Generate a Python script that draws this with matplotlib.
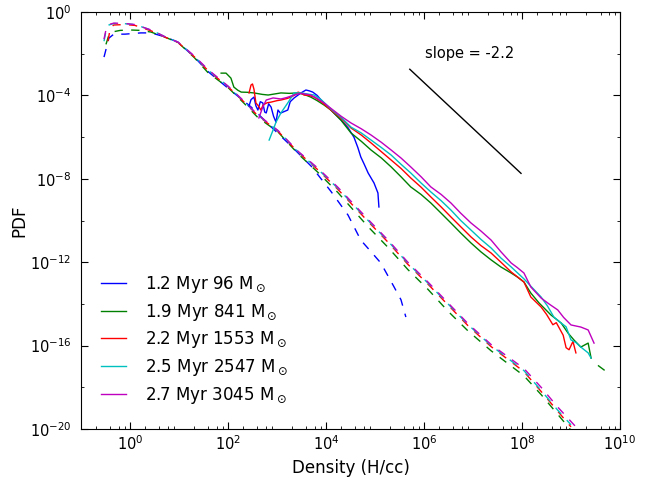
import matplotlib
matplotlib.use("Agg")
import matplotlib.pyplot as plt
import numpy as np
from matplotlib.ticker import FixedLocator, LogFormatterMathtext, NullFormatter

# log10(density), log10(PDF) for each snapshot
labels = [r'1.2 Myr 96 M$_\odot$', r'1.9 Myr 841 M$_\odot$', r'2.2 Myr 1553 M$_\odot$',
          r'2.5 Myr 2547 M$_\odot$', r'2.7 Myr 3045 M$_\odot$']
colors = ['b', 'g', 'r', 'c', 'm']

# solid curves
blue_x = [2.43, 2.47, 2.53, 2.57, 2.61, 2.66, 2.71, 2.75, 2.78, 2.83, 2.88, 2.93, 2.98, 3.02, 3.07,
          3.12, 3.17, 3.22, 3.27, 3.35, 3.42, 3.49, 3.59, 3.66, 3.73, 3.82, 3.9, 4.0, 4.1, 4.31,
          4.45, 4.57, 4.65, 4.71, 4.78, 4.86, 4.98, 5.06, 5.08]
blue_y = [-4.5, -4.2, -4.08, -4.5, -4.7, -4.3, -4.36, -4.8, -4.84, -4.4, -4.56, -5.0, -5.28, -4.7, -4.85,
          -4.8, -4.75, -4.7, -4.3, -4.12, -4.0, -3.88, -3.74, -3.78, -3.84, -4.0, -4.22, -4.45, -4.7, -5.18,
          -5.55, -6.0, -6.5, -6.95, -7.3, -7.72, -8.2, -8.68, -9.35]

green_x = [1.86, 1.96, 2.06, 2.12, 2.2, 2.27, 2.4, 2.53, 2.7, 2.82, 2.95, 3.08, 3.25, 3.43, 3.55, 3.69,
           3.82, 3.96, 4.1, 4.31, 4.51, 4.72, 4.92, 5.13, 5.33, 5.53, 5.73, 5.94, 6.14, 6.35, 6.55, 6.75,
           6.96, 7.16, 7.37, 7.57, 7.78, 7.9, 8.04, 8.18, 8.35, 8.59, 8.8, 8.94, 9.06, 9.2, 9.35, 9.41]
green_y = [-2.93, -2.93, -3.17, -3.6, -3.75, -3.84, -3.85, -3.88, -3.95, -3.98, -3.93, -3.88, -3.9, -3.88,
           -3.95, -4.08, -4.25, -4.46, -4.7, -5.2, -5.8, -6.2, -6.62, -7.0, -7.43, -7.9, -8.39, -8.75,
           -9.16, -9.65, -10.12, -10.6, -11.08, -11.5, -11.89, -12.23, -12.52, -12.7, -12.95, -13.48,
           -13.96, -14.53, -14.92, -15.4, -15.73, -16.07, -15.88, -16.6]

red_x = [2.43, 2.47, 2.5, 2.53, 2.57, 2.62, 2.67, 2.72, 2.8, 2.88, 3.0, 3.08, 3.2, 3.29, 3.38, 3.43,
         3.5, 3.55, 3.65, 3.76, 3.9, 4.1, 4.31, 4.51, 4.72, 4.92, 5.13, 5.33, 5.53, 5.73, 5.94, 6.14,
         6.35, 6.55, 6.75, 6.96, 7.16, 7.37, 7.57, 7.78, 8.04, 8.18, 8.39, 8.5, 8.63, 8.7, 8.84, 8.9,
         8.96, 9.04, 9.1]
red_y = [-3.88, -3.5, -3.45, -3.7, -4.36, -4.5, -4.7, -4.45, -4.35, -4.32, -4.25, -4.22, -4.15, -4.08,
         -3.95, -3.84, -3.9, -3.98, -4.0, -4.08, -4.3, -4.7, -5.1, -5.56, -5.9, -6.28, -6.7, -7.1, -7.5,
         -7.96, -8.4, -8.87, -9.35, -9.83, -10.3, -10.79, -11.2, -11.56, -12.0, -12.47, -12.95, -13.67,
         -14.15, -14.5, -15.0, -14.9, -15.5, -16.1, -16.2, -15.8, -16.35]

cyan_x = [2.84, 2.92, 2.98, 3.08, 3.22, 3.35, 3.49, 3.62, 3.76, 3.9, 4.1, 4.31, 4.51, 4.72, 4.92, 5.13,
          5.33, 5.53, 5.73, 5.94, 6.14, 6.35, 6.55, 6.75, 6.96, 7.16, 7.37, 7.57, 7.78, 8.04, 8.2, 8.39,
          8.52, 8.65, 8.8, 8.9, 9.0, 9.1, 9.2, 9.35, 9.41]
cyan_y = [-6.14, -5.66, -5.28, -4.84, -4.36, -3.88, -3.88, -3.93, -3.98, -4.2, -4.65, -5.05, -5.52, -5.8,
          -6.14, -6.5, -6.86, -7.3, -7.72, -8.2, -8.63, -9.05, -9.5, -10.0, -10.46, -10.9, -11.32, -11.8,
          -12.23, -12.8, -13.2, -13.67, -14.1, -14.63, -14.92, -15.1, -15.73, -15.85, -16.07, -16.35, -16.6]

mag_x = [2.63, 2.71, 2.78, 2.92, 3.08, 3.2, 3.35, 3.49, 3.69, 3.82, 3.96, 4.1, 4.31, 4.51, 4.72, 4.92,
         5.13, 5.33, 5.53, 5.73, 5.94, 6.14, 6.35, 6.55, 6.75, 6.96, 7.16, 7.37, 7.57, 7.78, 7.9, 8.04,
         8.18, 8.39, 8.55, 8.73, 8.85, 9.0, 9.2, 9.35, 9.47]
mag_y = [-5.08, -4.56, -4.22, -4.12, -4.17, -4.1, -3.98, -3.9, -3.98, -4.15, -4.36, -4.62, -5.0, -5.32,
         -5.6, -5.9, -6.25, -6.62, -7.0, -7.43, -7.9, -8.39, -8.75, -9.16, -9.65, -10.12, -10.5, -10.94,
         -11.5, -12.04, -12.25, -12.52, -13.19, -13.72, -14.0, -14.29, -14.65, -15.01, -15.11, -15.25,
         -15.88]

# dashed curves (nan splits the green one where it leaves the axes)
blue_dx = [-0.53, -0.43, -0.33, -0.1, 0.22, 0.43, 0.73, 0.98, 1.31, 1.59, 2.0, 2.47, 2.9, 3.3, 3.7,
           4.1, 4.45, 4.71, 4.92, 5.12, 5.39, 5.53, 5.63]
blue_dy = [-2.16, -1.25, -1.06, -1.06, -1.0, -1.0, -1.2, -1.45, -2.15, -2.85, -3.65, -4.55, -5.55,
           -6.45, -7.4, -8.6, -9.74, -10.94, -11.5, -12.04, -13.19, -13.8, -14.63]

green_dx = [-0.49, -0.43, -0.35, -0.2, 0.0, 0.22, 0.43, 0.73, 0.98, 1.31, 1.59, 2.0, 2.33, 2.61, 3.02,
            3.43, 3.84, 4.24, 4.86, 5.27, 5.67, 6.08, 6.49, 6.9, 7.37, 8.04, 8.39, 8.73, 9.05, 9.3,
            np.nan, 9.55, 9.75]
green_dy = [-1.55, -1.1, -0.95, -0.88, -0.86, -0.88, -0.96, -1.22, -1.46, -2.18, -2.9, -3.62, -4.38,
            -5.06, -5.75, -6.8, -7.7, -8.65, -10.3, -11.3, -12.35, -13.3, -14.35, -15.3, -16.25, -17.45,
            -18.35, -19.3, -20.2, -21.5, np.nan, -16.95, -17.3]

red_dx = [-0.45, -0.4, -0.33, -0.1, 0.1, 0.43, 0.73, 0.98, 1.31, 1.59, 2.0, 2.33, 2.61, 3.02, 3.43,
          3.84, 4.24, 4.86, 5.27, 5.67, 6.08, 6.49, 6.9, 7.37, 8.04, 8.39, 8.73, 9.0]
red_dy = [-1.4, -0.75, -0.62, -0.6, -0.64, -0.9, -1.22, -1.46, -2.14, -2.8, -3.58, -4.32, -4.97, -5.72,
          -6.72, -7.58, -8.5, -10.05, -11.05, -12.1, -13.05, -14.05, -15.05, -16.05, -17.25, -18.2,
          -19.15, -19.9]

cyan_dx = [-0.53, -0.49, -0.43, -0.33, -0.1, 0.1, 0.43, 0.73, 0.98, 1.31, 1.59, 2.0, 2.33, 2.61, 3.02,
           3.43, 3.84, 4.24, 4.86, 5.27, 5.67, 6.08, 6.49, 6.9, 7.37, 8.04, 8.39, 8.73, 9.0]
cyan_dy = [-1.4, -0.9, -0.62, -0.55, -0.56, -0.6, -0.86, -1.2, -1.44, -2.12, -2.78, -3.56, -4.3, -4.95,
           -5.7, -6.7, -7.55, -8.45, -10.0, -11.0, -12.05, -13.0, -14.0, -15.0, -16.0, -17.2, -18.15,
           -19.1, -19.8]

mag_dx = [-0.53, -0.49, -0.43, -0.33, -0.1, 0.1, 0.43, 0.73, 0.98, 1.31, 1.59, 2.0, 2.33, 2.61, 3.02,
          3.43, 3.84, 4.24, 4.86, 5.27, 5.67, 6.08, 6.49, 6.9, 7.37, 8.04, 8.39, 8.73, 9.1, 9.3]
mag_dy = [-1.3, -0.85, -0.6, -0.53, -0.55, -0.6, -0.86, -1.2, -1.44, -2.1, -2.75, -3.55, -4.28, -4.93,
          -5.68, -6.68, -7.5, -8.4, -9.95, -10.95, -12.0, -12.95, -13.95, -14.95, -15.95, -17.1, -18.0,
          -18.95, -19.9, -20.5]

solid = [(blue_x, blue_y), (green_x, green_y), (red_x, red_y), (cyan_x, cyan_y), (mag_x, mag_y)]
dashed = [(blue_dx, blue_dy), (green_dx, green_dy), (red_dx, red_dy), (cyan_dx, cyan_dy), (mag_dx, mag_dy)]

slope = -2.2
slope_x = [5.71, 7.98]
slope_mid = (6.84, -5.23)

plt.rcParams['font.family'] = ['DejaVu Sans']
plt.rcParams['mathtext.fontset'] = 'dejavusans'
plt.rcParams['axes.unicode_minus'] = False
plt.rcParams['lines.dashed_pattern'] = [6, 6]

fig = plt.figure(figsize=(6.6, 4.82), dpi=100)
ax = fig.add_axes([0.1227, 0.110, 0.8167, 0.865])

for (dx, dy), c in zip(dashed, colors):
    ax.plot(10 ** np.array(dx), 10 ** np.array(dy), '--', color=c, lw=1.0)
for (sx, sy), c, lab in zip(solid, colors, labels):
    ax.plot(10 ** np.array(sx), 10 ** np.array(sy), '-', color=c, lw=1.0, label=lab)

# reference power law
lx = np.array(slope_x)
ly = slope_mid[1] + slope * (lx - slope_mid[0])
ax.plot(10 ** lx, 10 ** ly, 'k-', lw=1.0)
ax.text(10 ** 6.94, 10 ** -2.0, 'slope = %.1f' % slope, fontsize=10.5, ha='center', va='center')

ax.set_xscale('log')
ax.set_yscale('log')
ax.set_xlim(1e-1, 1e10)
ax.set_ylim(1e-20, 1)

ax.xaxis.set_major_locator(FixedLocator([10.0 ** k for k in range(0, 11, 2)]))
ax.xaxis.set_minor_locator(FixedLocator([m * 10.0 ** k for k in range(-1, 10) for m in (2, 4, 6, 8)]))
ax.yaxis.set_major_locator(FixedLocator([10.0 ** k for k in range(-20, 1, 4)]))
ax.yaxis.set_minor_locator(FixedLocator([10.0 ** k for k in range(-18, 0, 4)]))
ax.xaxis.set_major_formatter(LogFormatterMathtext())
ax.yaxis.set_major_formatter(LogFormatterMathtext())
ax.xaxis.set_minor_formatter(NullFormatter())
ax.yaxis.set_minor_formatter(NullFormatter())

ax.tick_params(which='both', direction='in', top=True, right=True, labelsize=10.5)
ax.tick_params(which='major', length=5)
ax.tick_params(which='minor', length=2.5)
ax.tick_params(axis='x', pad=4)
ax.tick_params(axis='y', pad=7)

ax.set_xlabel('Density (H/cc)', fontsize=12)
ax.set_ylabel('PDF', fontsize=12, labelpad=1)

ax.legend(loc='lower left', bbox_to_anchor=(0.01, 0.02), frameon=False, fontsize=12,
          handlelength=1.5, handletextpad=1.1, labelspacing=0.4)

fig.savefig('out.png', dpi=100)
